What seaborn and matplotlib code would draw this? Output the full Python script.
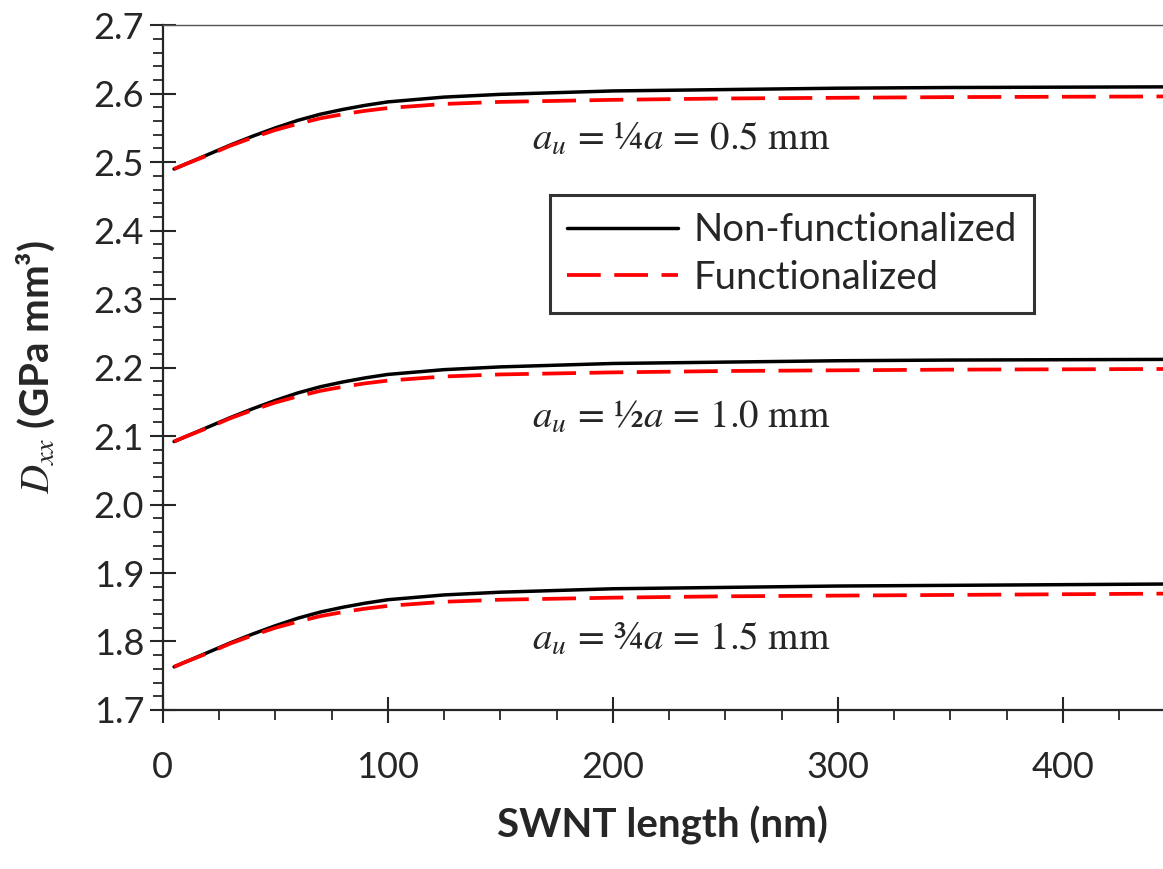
import matplotlib.pyplot as plt
import seaborn as sb
import pandas as pd

# SWNT length (nm)
lungime = [5, 10, 20, 30, 40, 50, 60, 70, 80, 90, 100, 125, 150, 200, 250, 300, 350, 450]

# au = 1/4 a = 0.5 mm
sus_nf = [2.490, 2.497, 2.511, 2.525, 2.538, 2.550, 2.561, 2.570, 2.577, 2.583, 2.588, 2.595, 2.599, 2.604, 2.606, 2.608, 2.609, 2.610]
sus_f = [2.490, 2.497, 2.510, 2.524, 2.536, 2.547, 2.556, 2.564, 2.570, 2.575, 2.579, 2.585, 2.588, 2.591, 2.593, 2.594, 2.595, 2.596]
# au = 1/2 a = 1.0 mm
mij_nf = [2.092, 2.099, 2.113, 2.127, 2.140, 2.152, 2.163, 2.172, 2.179, 2.185, 2.190, 2.197, 2.201, 2.206, 2.208, 2.210, 2.211, 2.212]
mij_f = [2.092, 2.099, 2.112, 2.126, 2.138, 2.149, 2.158, 2.166, 2.172, 2.177, 2.181, 2.187, 2.190, 2.193, 2.195, 2.196, 2.197, 2.198]
# au = 3/4 a = 1.5 mm
jos_nf = [1.763, 1.770, 1.784, 1.798, 1.811, 1.823, 1.834, 1.843, 1.850, 1.856, 1.861, 1.868, 1.872, 1.877, 1.879, 1.881, 1.882, 1.884]
jos_f = [1.763, 1.770, 1.783, 1.797, 1.809, 1.820, 1.829, 1.837, 1.843, 1.848, 1.852, 1.858, 1.861, 1.864, 1.866, 1.867, 1.868, 1.870]

etichete = [r"$a_u\,=\,¼a\,=\,0.5\ \mathrm{mm}$", r"$a_u\,=\,½a\,=\,1.0\ \mathrm{mm}$", r"$a_u\,=\,¾a\,=\,1.5\ \mathrm{mm}$"]
pozitii_y = [2.5175, 2.112, 1.788]

sb.set_style("ticks")
plt.rcParams['font.family'] = ['Lato', 'DejaVu Sans']
plt.rcParams['mathtext.fontset'] = 'stix'

fig = plt.figure(figsize=(11.63, 8.69), dpi=100)
ax = fig.add_axes([0.140, 0.183, 0.86, 0.788])

grupuri = [(sus_nf, sus_f), (mij_nf, mij_f), (jos_nf, jos_f)]
for i, (nf, f) in enumerate(grupuri):
    df = pd.DataFrame({"L": lungime, "NF": nf, "F": f})
    sb.lineplot(data=df, x="L", y="NF", ax=ax, color="black", linewidth=2.5,
                label="Non-functionalized" if i == 0 else None)
    sb.lineplot(data=df, x="L", y="F", ax=ax, color="#ff0000", linewidth=2.7,
                label="Functionalized" if i == 0 else None)
    ax.lines[-1].set_dashes((9, 3.6))

for txt, y in zip(etichete, pozitii_y):
    ax.text(164, y, txt, fontsize=28, va="baseline", ha="left")

ax.set_xlim(0, 444.5)
ax.set_ylim(1.7, 2.7)
ax.set_xticks([0, 100, 200, 300, 400])
ax.set_xticks(range(0, 450, 25), minor=True)
ax.set_yticks([1.7 + 0.1 * i for i in range(11)])
ax.set_yticklabels([f"{1.7 + 0.1 * i:.1f}" for i in range(11)])
ax.set_yticks([1.7 + 0.02 * i for i in range(51)], minor=True)

ax.tick_params(axis="both", which="major", direction="inout", length=19, width=1.5, labelsize=26)
ax.tick_params(axis="both", which="minor", direction="out", length=7, width=1.3)
ax.tick_params(axis="x", which="major", pad=20)
ax.tick_params(axis="y", which="major", pad=4)

ax.spines["right"].set_visible(False)
ax.spines["top"].set_color("#555555")
ax.spines["top"].set_linewidth(1.0)
ax.spines["left"].set_linewidth(1.6)
ax.spines["bottom"].set_linewidth(1.6)

ax.set_xlabel("SWNT length (nm)", fontsize=29, fontweight="bold", labelpad=16)
ax.set_ylabel("$D_{xx}$ (GPa mm³)", fontsize=29, fontweight="bold")
ax.yaxis.set_label_coords(-0.106, 0.5)

leg = ax.legend(loc="upper left", bbox_to_anchor=(0.387, 0.752), fontsize=27.5, frameon=True,
                fancybox=False, handlelength=2.9, handletextpad=0.4, borderpad=0.45,
                labelspacing=0.3, borderaxespad=0)
leg.get_frame().set_edgecolor("black")
leg.get_frame().set_linewidth(2.2)

fig.savefig("out.png", dpi=100)
